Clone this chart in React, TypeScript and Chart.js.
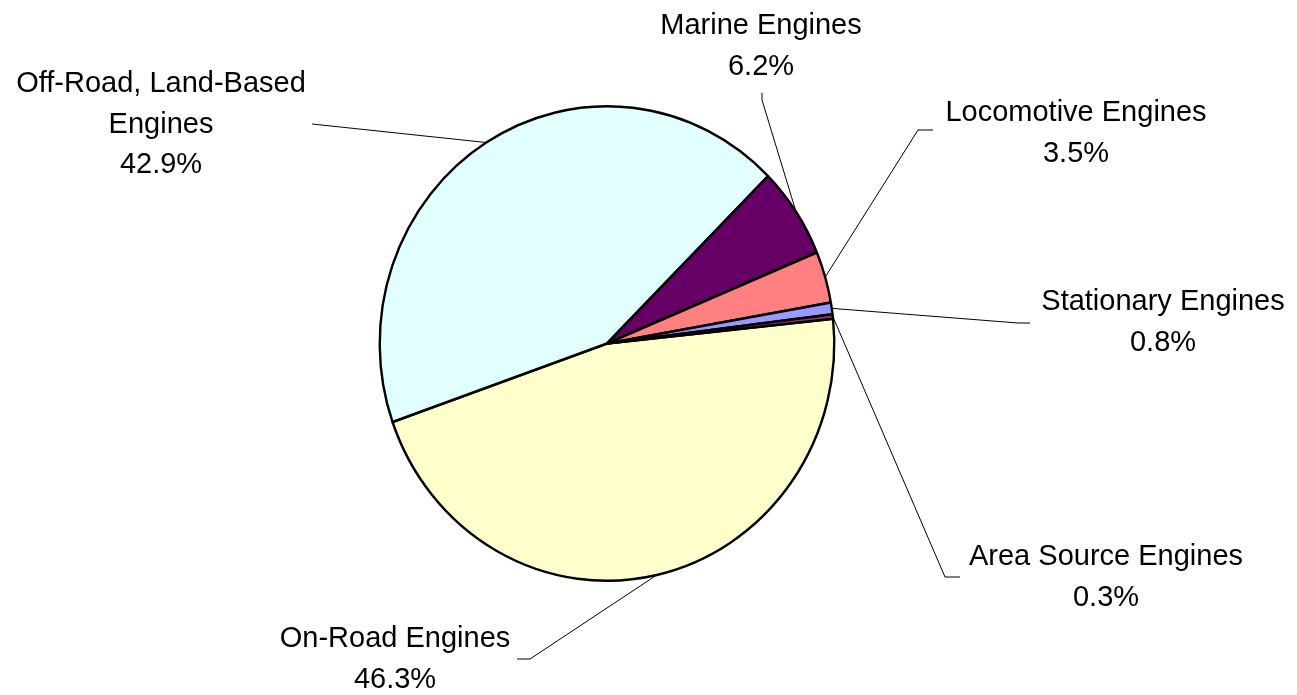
import React, { useEffect, useRef } from "react";
import { Chart, registerables } from "chart.js";

Chart.register(...registerables);

// ---- data ----
const categories = [
  "On-Road Engines",
  "Off-Road, Land-Based Engines",
  "Marine Engines",
  "Locomotive Engines",
  "Stationary Engines",
  "Area Source Engines",
];
const shares = [46.3, 42.9, 6.2, 3.5, 0.8, 0.3];
const labelLines = [
  ["On-Road Engines"],
  ["Off-Road, Land-Based", "Engines"],
  ["Marine Engines"],
  ["Locomotive Engines"],
  ["Stationary Engines"],
  ["Area Source Engines"],
];

// ---- styles / layout ----
const sliceColors = ["#FFFFCC", "#E2FFFF", "#660066", "#FF8080", "#9999FF", "#993366"];
const W = 1297;
const H = 695;
const X_SCALE = 228 / 238; // pie is slightly taller than wide in the reference
const FONT = '29px "Liberation Sans", Arial, sans-serif';
const LINE_H = 40.5;
const labelLayout = [
  { cx: 395, y: 647, leader: [[530, 659], [517, 659]] },
  { cx: 161, y: 92, leader: [[312, 124]] },
  { cx: 761, y: 34, leader: [[762, 100], [762, 93]] },
  { cx: 1076, y: 121, leader: [[918, 130], [933, 130]] },
  { cx: 1163, y: 310, leader: [[1018, 323], [1030, 323]] },
  { cx: 1106, y: 565, leader: [[945, 577], [960, 577]] },
];

const ellipsePlugin = {
  id: "ellipse",
  beforeDatasetsDraw(chart: any) {
    const arc = chart.getDatasetMeta(0).data[0];
    const ctx = chart.ctx;
    ctx.save();
    ctx.translate(arc.x, arc.y);
    ctx.scale(X_SCALE, 1);
    ctx.translate(-arc.x, -arc.y);
  },
  afterDatasetsDraw(chart: any) {
    chart.ctx.restore();
  },
};

const labelPlugin = {
  id: "outsideLabels",
  afterDraw(chart: any) {
    const ctx = chart.ctx as CanvasRenderingContext2D;
    const meta = chart.getDatasetMeta(0);
    ctx.save();
    meta.data.forEach((el: any, i: number) => {
      const { x, y, startAngle, endAngle, outerRadius } = el.getProps(
        ["x", "y", "startAngle", "endAngle", "outerRadius"],
        true
      );
      const mid = (startAngle + endAngle) / 2;
      const ex = x + outerRadius * Math.cos(mid) * X_SCALE;
      const ey = y + outerRadius * Math.sin(mid);
      const lay = labelLayout[i];
      ctx.beginPath();
      ctx.strokeStyle = "#000";
      ctx.lineWidth = 1;
      ctx.moveTo(ex, ey);
      lay.leader.forEach((pt) => ctx.lineTo(pt[0], pt[1]));
      ctx.stroke();
      ctx.fillStyle = "#000";
      ctx.font = FONT;
      ctx.textAlign = "center";
      ctx.textBaseline = "alphabetic";
      const lines = [...labelLines[i], shares[i].toFixed(1) + "%"];
      lines.forEach((t, k) => ctx.fillText(t, lay.cx, lay.y + k * LINE_H));
    });
    ctx.restore();
  },
};

export default function App() {
  const ref = useRef<HTMLCanvasElement>(null);
  useEffect(() => {
    const canvas = ref.current!;
    const chart = new Chart(canvas, {
      type: "pie",
      data: {
        labels: categories,
        datasets: [
          {
            data: shares,
            backgroundColor: sliceColors,
            borderColor: "#000",
            borderWidth: 2.5,
          },
        ],
      },
      options: {
        responsive: false,
        animation: false,
        rotation: 84,
        layout: { padding: { left: 357, right: 440, top: 105, bottom: 113 } },
        plugins: { legend: { display: false }, tooltip: { enabled: false } },
      },
      plugins: [ellipsePlugin, labelPlugin],
    });
    return () => chart.destroy();
  }, []);
  return (
    <div style={{ position: "fixed", left: 0, top: 0, width: W, height: H, background: "#fff" }}>
      <canvas ref={ref} width={W} height={H} style={{ width: W, height: H, display: "block" }} />
    </div>
  );
}
